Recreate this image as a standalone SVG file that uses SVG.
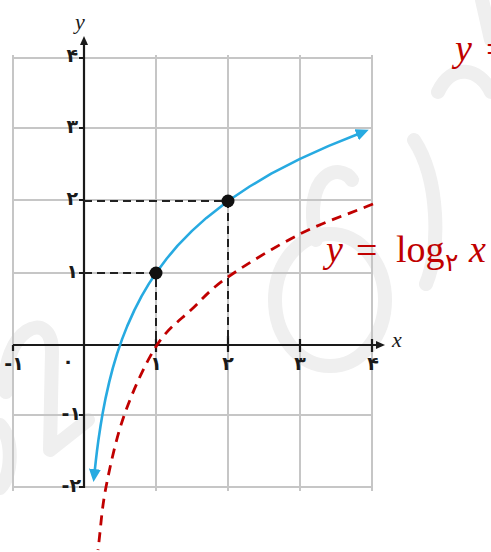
<svg xmlns="http://www.w3.org/2000/svg" width="491" height="552" viewBox="0 0 491 552">
<style>
.grid{stroke:#c6c6c6;stroke-width:2;fill:none}
.axis{stroke:#1a1a1a;stroke-width:2.2;fill:none}
.guide{stroke:#222;stroke-width:2;stroke-dasharray:8 5;fill:none}
.wm{stroke:#efefef;stroke-width:14;fill:none;stroke-linecap:round;stroke-linejoin:round}
.num{font-family:"DejaVu Sans",sans-serif;font-size:19px;font-weight:bold;fill:#1a1a1a}
.ttl{font-family:"Liberation Serif",serif;font-style:italic;font-size:22px;fill:#1a1a1a}
.red{font-family:"Liberation Serif",serif;font-size:38px;fill:#c00000}
</style>
<defs>
<marker id="blueArrow" markerUnits="userSpaceOnUse" markerWidth="14" markerHeight="12" refX="1" refY="6" orient="auto-start-reverse">
<path d="M0,0 L13,6 L0,12 z" fill="#27aae1"/>
</marker>
<marker id="axArrow" markerUnits="userSpaceOnUse" markerWidth="10" markerHeight="8" refX="1" refY="4" orient="auto">
<path d="M0,0 L9,4 L0,8 z" fill="#1a1a1a"/>
</marker>
</defs>
<rect width="491" height="552" fill="#ffffff"/>
<g id="watermark">
<path class="wm" d="M6 392 C0 330 52 305 52 352 L50 450 L88 420"/>
<path class="wm" d="M0 425 C14 440 12 475 0 488"/>
<path class="wm" d="M352 180 C340 162 302 172 316 240"/>
<ellipse class="wm" cx="330" cy="300" rx="55" ry="66"/>
<path class="wm" d="M414 140 C440 180 440 250 426 284"/>
<path class="wm" d="M438 92 C452 62 480 68 491 92"/>
<path class="wm" d="M482 0 L491 40"/>
</g>
<g id="grid">
<path class="grid" d="M13 55 V491 M156 55 V491 M228 55 V491 M300 55 V491 M372 55 V491"/>
<path class="grid" d="M13 58 H373 M13 128 H373 M13 200 H373 M13 273 H373 M13 415 H373 M13 487 H373"/>
</g>
<g id="axes">
<path class="axis" d="M13 345 H377" marker-end="url(#axArrow)"/>
<path class="axis" d="M84 488 V44" marker-end="url(#axArrow)"/>
<path class="axis" d="M79 58 H84 M79 128 H84 M79 200 H84 M79 273 H84 M79 415 H84 M79 487 H84 M156 339 V352 M228 336 V352 M300 339 V352 M372 339 V352 M13 345 V351"/>
</g>
<g id="labels">
<text class="num" x="78" y="62" text-anchor="end">۴</text>
<text class="num" x="78" y="133" text-anchor="end">۳</text>
<text class="num" x="78" y="205" text-anchor="end">۲</text>
<text class="num" x="78" y="278" text-anchor="end">۱</text>
<text class="num" x="81" y="420" text-anchor="end">-۱</text>
<text class="num" x="81" y="492" text-anchor="end">-۲</text>
<text class="num" x="68" y="368" text-anchor="middle">۰</text>
<text class="num" x="14" y="370" text-anchor="middle">-۱</text>
<text class="num" x="156" y="370" text-anchor="middle">۱</text>
<text class="num" x="228" y="370" text-anchor="middle">۲</text>
<text class="num" x="300" y="370" text-anchor="middle">۳</text>
<text class="num" x="373" y="370" text-anchor="middle">۴</text>
<text class="ttl" x="75" y="29">y</text>
<text class="ttl" x="392" y="347">x</text>
</g>
<g id="connectors">
<path class="guide" d="M84 273 H156 V345"/>
<path class="guide" d="M84 201 H228 V345"/>
<path id="log2" d="M373 204 C348.7 214 324.2 221.8 300 234 C275.8 246.2 246 264.5 228 277 C210 289.5 203.8 297.7 192 309 C180.2 320.3 168.2 327.7 157 345 C145.8 362.3 133.5 389.3 125 413 C116.5 436.7 110.5 464.2 106 487 C101.5 509.8 100.7 529 98 550" fill="none" stroke="#c00000" stroke-width="2.8" stroke-dasharray="10 7"/>
<polyline id="blueCurve" points="94.8,470.1 95.9,460.1 96.96,451.1 98.4,440.2 100.56,425.7 102.72,412.9 105.6,398.1 109.2,382.1 112.8,368.2 117.1,353.7 122.2,338.9 127.2,326.1 134.4,310.1 141.6,296.2 148.8,283.9 156,273 166.8,258.5 177.6,245.7 192,230.9 206.4,217.9 228,201 249.6,186.5 271.2,173.7 300,158.9 328.8,145.9 357.6,134.3" fill="none" stroke="#27aae1" stroke-width="2.6" stroke-linejoin="round" marker-start="url(#blueArrow)" marker-end="url(#blueArrow)"/>
</g>
<g id="points">
<circle cx="156" cy="273" r="6.5" fill="#111"/>
<circle cx="228" cy="201" r="6.5" fill="#111"/>
</g>
<g id="label-log">
<text class="red" x="326" y="262" font-style="italic">y</text>
<text class="red" x="356" y="263" font-size="46">=</text>
<text class="red" x="396" y="262">log</text>
<text x="445" y="271" font-family="DejaVu Sans, sans-serif" font-size="25" fill="#c00000">۲</text>
<text class="red" x="469" y="262" font-style="italic">x</text>
</g>
<g id="label-top">
<text class="red" x="455" y="61" font-style="italic">y</text>
<text class="red" x="486" y="62" font-size="46">=</text>
</g>
</svg>
